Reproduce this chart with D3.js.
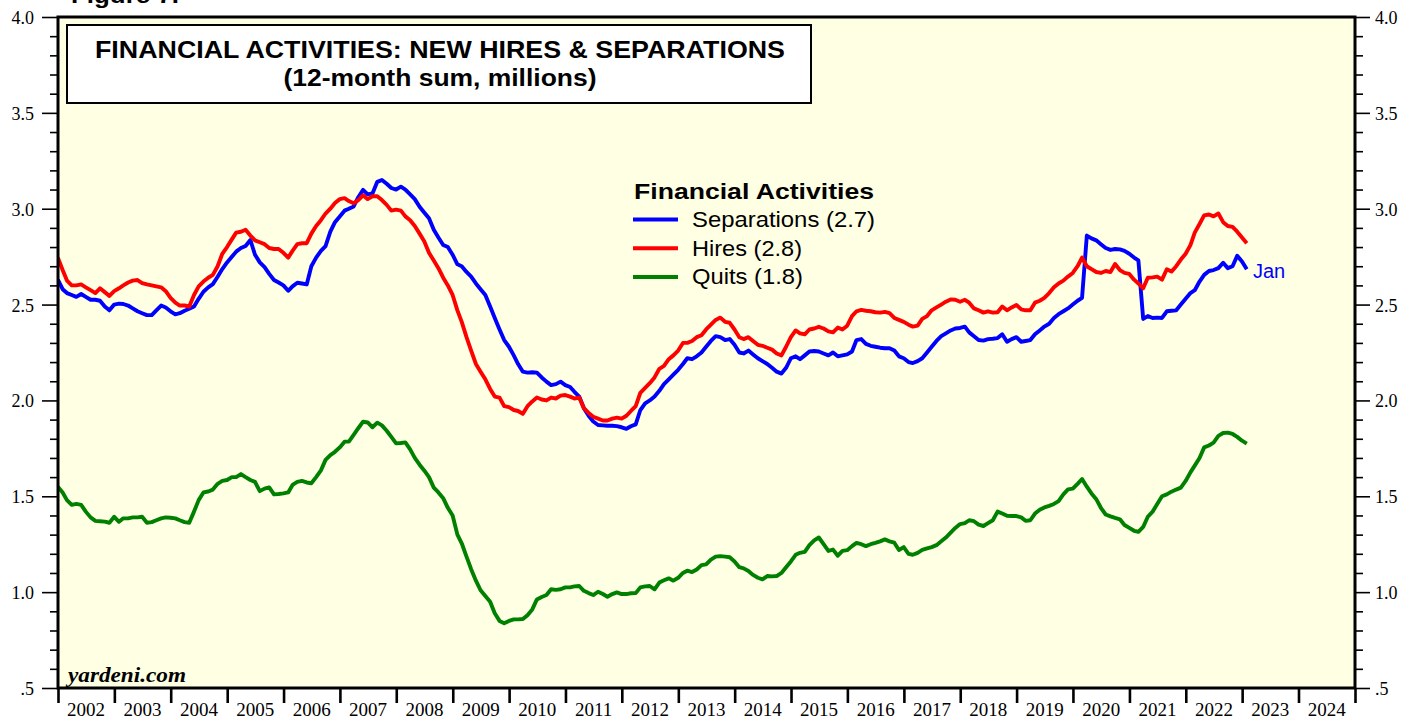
<!DOCTYPE html>
<html>
<head>
<meta charset="utf-8">
<script src="https://cdn.jsdelivr.net/npm/d3@7"></script>
<style>
  html, body { margin: 0; padding: 0; background: #ffffff; }
  svg { display: block; }
</style>
</head>
<body>
<svg id="chart" width="1419" height="721"></svg>
<script>
// ---------------- DATA ----------------
// Monthly 12-month sums (millions), Dec 2001 .. Jan 2023, plotted at month end
const firstMonth = [2001, 12];
const separations = [
  2.63, 2.58, 2.56, 2.55, 2.54, 2.555, 2.54, 2.525, 2.525, 2.52, 2.49, 2.47,
  2.50, 2.505, 2.503, 2.495, 2.48, 2.465, 2.455, 2.445, 2.445, 2.47, 2.495, 2.485,
  2.465, 2.449, 2.455, 2.468, 2.478, 2.49, 2.53, 2.567, 2.59, 2.607, 2.645, 2.685,
  2.72, 2.75, 2.776, 2.795, 2.806, 2.837, 2.76, 2.72, 2.695, 2.66, 2.628, 2.615,
  2.60, 2.572, 2.595, 2.614, 2.61, 2.605, 2.70, 2.745, 2.78, 2.805, 2.88, 2.93,
  2.96, 2.99, 3.00, 3.012, 3.06, 3.098, 3.075, 3.08, 3.14, 3.15, 3.13, 3.108,
  3.10, 3.115, 3.10, 3.075, 3.05, 3.01, 2.98, 2.95, 2.89, 2.85, 2.811, 2.80,
  2.76, 2.71, 2.70, 2.67, 2.646, 2.61, 2.58, 2.55, 2.49, 2.43, 2.37, 2.315,
  2.28, 2.235, 2.19, 2.15, 2.145, 2.147, 2.145, 2.12, 2.098, 2.08, 2.085, 2.098,
  2.08, 2.07, 2.045, 2.02, 1.96, 1.92, 1.89, 1.872, 1.87, 1.868, 1.868, 1.866,
  1.86, 1.852, 1.865, 1.875, 1.95, 1.985, 2.00, 2.02, 2.05, 2.085, 2.11, 2.135,
  2.16, 2.19, 2.22, 2.215, 2.23, 2.25, 2.28, 2.31, 2.335, 2.33, 2.315, 2.32,
  2.29, 2.25, 2.245, 2.26, 2.24, 2.22, 2.205, 2.19, 2.17, 2.15, 2.14, 2.17,
  2.22, 2.23, 2.215, 2.235, 2.255, 2.258, 2.255, 2.245, 2.235, 2.25, 2.23, 2.235,
  2.24, 2.255, 2.315, 2.32, 2.295, 2.285, 2.28, 2.275, 2.272, 2.272, 2.26, 2.23,
  2.22, 2.20, 2.195, 2.205, 2.22, 2.25, 2.28, 2.31, 2.335, 2.35, 2.365, 2.375,
  2.378, 2.385, 2.355, 2.335, 2.315, 2.312, 2.32, 2.322, 2.325, 2.345, 2.306, 2.32,
  2.33, 2.306, 2.31, 2.315, 2.345, 2.365, 2.385, 2.40, 2.43, 2.45, 2.465, 2.48,
  2.50, 2.52, 2.535, 2.86, 2.845, 2.835, 2.815, 2.795, 2.785, 2.79, 2.788, 2.78,
  2.765, 2.745, 2.73, 2.425, 2.44, 2.43, 2.432, 2.43, 2.465, 2.468, 2.47, 2.50,
  2.53, 2.56, 2.575, 2.62, 2.655, 2.675, 2.68, 2.69, 2.718, 2.69, 2.70, 2.755,
  2.725, 2.684
];
const hires = [
  2.745, 2.68, 2.625, 2.60, 2.60, 2.605, 2.59, 2.575, 2.56, 2.585, 2.565, 2.545,
  2.57, 2.585, 2.60, 2.615, 2.625, 2.628, 2.612, 2.605, 2.60, 2.595, 2.59, 2.57,
  2.535, 2.51, 2.495, 2.495, 2.49, 2.55, 2.595, 2.62, 2.64, 2.655, 2.70, 2.765,
  2.80, 2.84, 2.875, 2.88, 2.89, 2.86, 2.835, 2.825, 2.815, 2.795, 2.79, 2.79,
  2.77, 2.745, 2.78, 2.815, 2.82, 2.82, 2.87, 2.91, 2.94, 2.975, 3.00, 3.03,
  3.05, 3.055, 3.04, 3.028, 3.045, 3.07, 3.05, 3.065, 3.065, 3.045, 3.02, 2.99,
  2.995, 2.99, 2.96, 2.94, 2.91, 2.87, 2.83, 2.77, 2.73, 2.69, 2.64, 2.60,
  2.55, 2.47, 2.41, 2.33, 2.26, 2.19, 2.15, 2.11, 2.06, 2.02, 2.015, 1.97,
  1.965, 1.95, 1.945, 1.93, 1.97, 1.995, 2.015, 2.005, 2.00, 2.015, 2.01, 2.025,
  2.028, 2.02, 2.01, 2.015, 1.96, 1.935, 1.915, 1.905, 1.895, 1.895, 1.905, 1.91,
  1.905, 1.92, 1.945, 1.97, 2.04, 2.065, 2.09, 2.12, 2.165, 2.18, 2.215, 2.235,
  2.26, 2.30, 2.30, 2.31, 2.33, 2.34, 2.37, 2.395, 2.42, 2.432, 2.41, 2.405,
  2.37, 2.33, 2.32, 2.33, 2.31, 2.29, 2.285, 2.275, 2.265, 2.245, 2.235, 2.28,
  2.33, 2.365, 2.35, 2.345, 2.37, 2.375, 2.384, 2.375, 2.36, 2.355, 2.38, 2.37,
  2.39, 2.44, 2.465, 2.472, 2.468, 2.465, 2.46, 2.458, 2.462, 2.455, 2.43, 2.42,
  2.41, 2.395, 2.385, 2.39, 2.425, 2.44, 2.47, 2.485, 2.50, 2.515, 2.527, 2.525,
  2.515, 2.525, 2.51, 2.48, 2.47, 2.458, 2.465, 2.458, 2.46, 2.49, 2.47, 2.485,
  2.498, 2.475, 2.47, 2.47, 2.51, 2.52, 2.535, 2.56, 2.59, 2.61, 2.625, 2.646,
  2.665, 2.70, 2.745, 2.70, 2.685, 2.67, 2.665, 2.675, 2.67, 2.712, 2.68, 2.665,
  2.66, 2.63, 2.61, 2.585, 2.64, 2.642, 2.646, 2.63, 2.684, 2.672, 2.70, 2.735,
  2.765, 2.81, 2.875, 2.92, 2.965, 2.97, 2.96, 2.975, 2.93, 2.91, 2.905, 2.88,
  2.85, 2.82
];
const quits = [
  1.55, 1.52, 1.48, 1.455, 1.46, 1.455, 1.42, 1.39, 1.372, 1.37, 1.368, 1.362,
  1.393, 1.367, 1.385, 1.385, 1.39, 1.39, 1.393, 1.362, 1.365, 1.375, 1.385, 1.39,
  1.388, 1.385, 1.375, 1.365, 1.362, 1.42, 1.48, 1.52, 1.525, 1.535, 1.565, 1.58,
  1.585, 1.60, 1.60, 1.616, 1.60, 1.585, 1.575, 1.527, 1.54, 1.546, 1.51, 1.512,
  1.515, 1.52, 1.559, 1.575, 1.58, 1.572, 1.568, 1.60, 1.635, 1.69, 1.715, 1.732,
  1.755, 1.785, 1.785, 1.82, 1.855, 1.889, 1.885, 1.86, 1.884, 1.87, 1.842, 1.81,
  1.776, 1.778, 1.781, 1.745, 1.70, 1.665, 1.635, 1.60, 1.545, 1.52, 1.49, 1.44,
  1.40, 1.30, 1.255, 1.185, 1.12, 1.06, 1.01, 0.98, 0.95, 0.89, 0.85, 0.838,
  0.85, 0.858, 0.858, 0.86, 0.88, 0.91, 0.962, 0.975, 0.985, 1.015, 1.012, 1.015,
  1.025, 1.025, 1.03, 1.032, 1.007, 0.995, 0.985, 1.002, 0.99, 0.976, 0.99, 0.999,
  0.99, 0.99, 0.994, 0.995, 1.025, 1.03, 1.032, 1.015, 1.05, 1.062, 1.072, 1.06,
  1.075, 1.10, 1.112, 1.105, 1.118, 1.141, 1.145, 1.17, 1.185, 1.188, 1.185, 1.182,
  1.16, 1.13, 1.124, 1.11, 1.09, 1.075, 1.067, 1.084, 1.082, 1.084, 1.10, 1.13,
  1.16, 1.195, 1.205, 1.21, 1.245, 1.27, 1.285, 1.25, 1.215, 1.222, 1.19, 1.215,
  1.219, 1.24, 1.257, 1.25, 1.24, 1.25, 1.257, 1.265, 1.275, 1.265, 1.258, 1.22,
  1.235, 1.20, 1.195, 1.205, 1.22, 1.228, 1.235, 1.245, 1.265, 1.285, 1.31, 1.335,
  1.355, 1.36, 1.375, 1.37, 1.352, 1.345, 1.36, 1.375, 1.42, 1.41, 1.398, 1.397,
  1.397, 1.39, 1.372, 1.375, 1.41, 1.43, 1.442, 1.45, 1.46, 1.475, 1.51, 1.536,
  1.54, 1.565, 1.59, 1.55, 1.515, 1.485, 1.44, 1.405, 1.395, 1.387, 1.38, 1.35,
  1.335, 1.32, 1.315, 1.34, 1.393, 1.42, 1.46, 1.50, 1.51, 1.524, 1.535, 1.545,
  1.58, 1.625, 1.66, 1.70, 1.755, 1.765, 1.78, 1.815, 1.83, 1.832, 1.825, 1.81,
  1.79, 1.775
];
const seriesNames = ["Separations (2.7)", "Hires (2.8)", "Quits (1.8)"];
const seriesColors = ["#0000ff", "#ff0000", "#008000"];
const yMajorTicks = [4.0, 3.5, 3.0, 2.5, 2.0, 1.5, 1.0, 0.5];
const yTickLabels = ["4.0", "3.5", "3.0", "2.5", "2.0", "1.5", "1.0", ".5"];
const yearLabels = ["2002","2003","2004","2005","2006","2007","2008","2009","2010","2011","2012","2013",
                    "2014","2015","2016","2017","2018","2019","2020","2021","2022","2023","2024"];
const titleLines = ["FINANCIAL ACTIVITIES: NEW HIRES & SEPARATIONS", "(12-month sum, millions)"];
const legendTitle = "Financial Activities";
const lastLabel = "Jan";

// ---------------- LAYOUT ----------------
const L = 58, R = 1355, T = 17, B = 688;
const svg = d3.select("#chart");
const sans = "'Liberation Sans', Arial, Helvetica, sans-serif";
const serif = "'Liberation Serif', 'Times New Roman', Times, serif";

const dates = separations.map((d, i) => new Date(firstMonth[0], firstMonth[1] - 1 + i + 1, 0));
const x = d3.scaleTime().domain([new Date(2002, 0, 1), new Date(2025, 0, 1)]).range([L, R]);
const y = d3.scaleLinear().domain([0.5, 4.0]).range([B, T]);

// plot background
svg.append("rect").attr("x", L).attr("y", T).attr("width", R - L).attr("height", B - T)
  .attr("fill", "#ffffe3");

// top-left figure label (cropped at the top edge, as in the reference)
svg.append("text").attr("x", 71).attr("y", 3).attr("font-family", sans).attr("font-weight", "bold")
  .attr("font-size", 22).attr("textLength", 108).attr("lengthAdjust", "spacingAndGlyphs").text("Figure 7.");

// Left / right axes
const minorTicks = d3.range(5, 41).map(v => v / 10).filter(v => Math.abs(v * 2 - Math.round(v * 2)) > 1e-6);
const leftMajor = svg.append("g").attr("transform", `translate(${L},0)`)
  .call(d3.axisLeft(y).tickValues(yMajorTicks).tickSize(16).tickPadding(8)
    .tickFormat((d, i) => yTickLabels[i]));
const leftMinor = svg.append("g").attr("transform", `translate(${L},0)`)
  .call(d3.axisLeft(y).tickValues(minorTicks).tickSize(8).tickFormat(""));
const rightMajor = svg.append("g").attr("transform", `translate(${R},0)`)
  .call(d3.axisRight(y).tickValues(yMajorTicks).tickSize(15).tickPadding(5)
    .tickFormat((d, i) => yTickLabels[i]));
const rightMinor = svg.append("g").attr("transform", `translate(${R},0)`)
  .call(d3.axisRight(y).tickValues(minorTicks).tickSize(8).tickFormat(""));
[leftMajor, leftMinor, rightMajor, rightMinor].forEach(g => {
  g.select(".domain").remove();
  g.selectAll(".tick line").attr("stroke", "#000").attr("stroke-width", 1.6);
  g.selectAll(".tick text").attr("font-family", serif).attr("font-size", 18)
    .attr("fill", "#000").attr("dy", "0.36em");
});

// Bottom axis: ticks at year boundaries, labels centred within each year
const yearBounds = d3.range(2002, 2026).map(yr => new Date(yr, 0, 1));
const bottom = svg.append("g").attr("transform", `translate(0,${B})`)
  .call(d3.axisBottom(x).tickValues(yearBounds).tickSize(15).tickFormat(""));
bottom.select(".domain").remove();
bottom.selectAll(".tick line").attr("stroke", "#000").attr("stroke-width", 2.6);
svg.append("g").selectAll("text").data(yearLabels).join("text")
  .attr("x", d => x(new Date(+d, 6, 2)))
  .attr("y", 716)
  .attr("text-anchor", "middle")
  .attr("font-family", serif).attr("font-size", 19).attr("fill", "#000")
  .text(d => d);

// Series lines
svg.append("clipPath").attr("id", "plotclip").append("rect")
  .attr("x", L).attr("y", T).attr("width", R - L).attr("height", B - T);
const line = d3.line().x((d, i) => x(dates[i])).y(d => y(d));
const allSeries = [separations, hires, quits];
svg.append("g").attr("clip-path", "url(#plotclip)")
  .selectAll("path").data(allSeries).join("path")
  .attr("d", d => line(d))
  .attr("fill", "none")
  .attr("stroke", (d, i) => seriesColors[i])
  .attr("stroke-width", 3.9)
  .attr("stroke-linejoin", "round");

// Frame
svg.append("rect").attr("x", L).attr("y", T).attr("width", R - L).attr("height", B - T)
  .attr("fill", "none").attr("stroke", "#000").attr("stroke-width", 3);

// Title box
svg.append("rect").attr("x", 67).attr("y", 25).attr("width", 744).attr("height", 78)
  .attr("fill", "#ffffff").attr("stroke", "#000").attr("stroke-width", 2);
svg.append("text").attr("x", 440).attr("y", 58).attr("text-anchor", "middle")
  .attr("font-family", sans).attr("font-weight", "bold").attr("font-size", 23)
  .attr("textLength", 690).attr("lengthAdjust", "spacingAndGlyphs").text(titleLines[0]);
svg.append("text").attr("x", 440).attr("y", 86).attr("text-anchor", "middle")
  .attr("font-family", sans).attr("font-weight", "bold").attr("font-size", 23)
  .attr("textLength", 313).attr("lengthAdjust", "spacingAndGlyphs").text(titleLines[1]);

// Legend
svg.append("text").attr("x", 634).attr("y", 199)
  .attr("font-family", sans).attr("font-weight", "bold").attr("font-size", 22)
  .attr("textLength", 240).attr("lengthAdjust", "spacingAndGlyphs").text(legendTitle);
const legendWidths = [183, 110, 111];
const lg = svg.append("g").selectAll("g").data(seriesNames).join("g")
  .attr("transform", (d, i) => `translate(0,${219.5 + i * 28.7})`);
lg.append("line").attr("x1", 633).attr("x2", 678).attr("y1", 0).attr("y2", 0)
  .attr("stroke", (d, i) => seriesColors[i]).attr("stroke-width", 4);
lg.append("text").attr("x", 692).attr("y", 7.5)
  .attr("font-family", sans).attr("font-size", 22).attr("fill", "#000")
  .attr("textLength", (d, i) => legendWidths[i]).attr("lengthAdjust", "spacingAndGlyphs")
  .text(d => d);

// End label
svg.append("text").attr("x", 1253).attr("y", 278)
  .attr("font-family", sans).attr("font-size", 20).attr("fill", "#0000ff").text(lastLabel);

// Source
svg.append("text").attr("x", 68).attr("y", 682)
  .attr("font-family", serif).attr("font-weight", "bold").attr("font-style", "italic")
  .attr("font-size", 21).attr("textLength", 118).attr("lengthAdjust", "spacingAndGlyphs")
  .text("yardeni.com");
</script>
</body>
</html>
